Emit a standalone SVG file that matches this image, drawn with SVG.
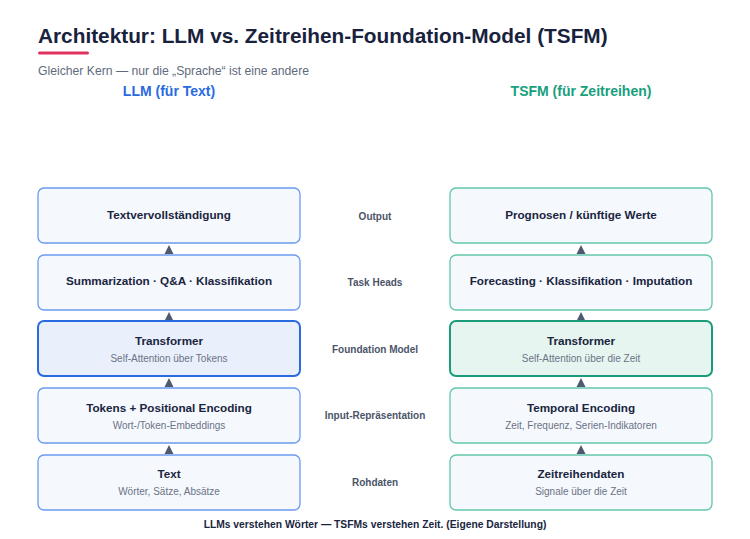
<svg xmlns="http://www.w3.org/2000/svg" width="750" height="539" viewBox="0 0 750 539">
<style>
text{font-family:"Liberation Sans",Arial,sans-serif}
.t{font-size:20.8px;font-weight:bold;fill:#18223d}
.sub{font-size:12.2px;fill:#5f6b7d}
.h{font-size:14px;font-weight:bold;text-anchor:middle}
.bt{font-size:11.7px;font-weight:bold;fill:#1a2540;text-anchor:middle}
.bs{font-size:10px;fill:#6b7385;text-anchor:middle}
.mid{font-size:10px;font-weight:bold;fill:#4b5568;text-anchor:middle}
.foot{font-size:10.3px;font-weight:bold;fill:#1a2540;text-anchor:middle}
.bl{fill:#f5f8fd;stroke:#6a9af0;stroke-width:1.3}
.blh{fill:#e9f0fc;stroke:#2a6ae0;stroke-width:2}
.gr{fill:#f5f8fd;stroke:#62c6aa;stroke-width:1.3}
.grh{fill:#e6f5f0;stroke:#1a9c7a;stroke-width:2}
.ar{fill:#4e5a70}
</style>
<text class="t" x="38" y="43">Architektur: LLM vs. Zeitreihen-Foundation-Model (TSFM)</text>
<rect x="38" y="51.5" width="51" height="3" rx="1.5" fill="#e0325f"/>
<text class="sub" x="38" y="75">Gleicher Kern — nur die „Sprache“ ist eine andere</text>
<text class="h" x="169" y="96" fill="#2a6ae0">LLM (für Text)</text>
<text class="h" x="581" y="96" fill="#17a07c">TSFM (für Zeitreihen)</text>

<g id="connectors">
<polygon class="ar" points="169,245 164.5,254 173.5,254"/>
<polygon class="ar" points="169,312 164.5,321 173.5,321"/>
<polygon class="ar" points="169,378 164.5,387 173.5,387"/>
<polygon class="ar" points="169,445 164.5,454 173.5,454"/>
<polygon class="ar" points="581,245 576.5,254 585.5,254"/>
<polygon class="ar" points="581,312 576.5,321 585.5,321"/>
<polygon class="ar" points="581,378 576.5,387 585.5,387"/>
<polygon class="ar" points="581,445 576.5,454 585.5,454"/>
</g>

<g id="llm-output"><rect class="bl" x="38" y="188" width="262" height="55" rx="6"/><text class="bt" x="169" y="218.5">Textvervollständigung</text></g>
<g id="llm-heads"><rect class="bl" x="38" y="255" width="262" height="55" rx="6"/><text class="bt" x="169" y="285">Summarization · Q&amp;A · Klassifikation</text></g>
<g id="llm-transformer"><rect class="blh" x="38" y="321" width="262" height="55" rx="6"/><text class="bt" x="169" y="345">Transformer</text><text class="bs" x="169" y="362">Self-Attention über Tokens</text></g>
<g id="llm-input"><rect class="bl" x="38" y="388" width="262" height="55" rx="6"/><text class="bt" x="169" y="412">Tokens + Positional Encoding</text><text class="bs" x="169" y="429">Wort-/Token-Embeddings</text></g>
<g id="llm-raw"><rect class="bl" x="38" y="455" width="262" height="55" rx="6"/><text class="bt" x="169" y="478">Text</text><text class="bs" x="169" y="495">Wörter, Sätze, Absätze</text></g>

<g id="tsfm-output"><rect class="gr" x="450" y="188" width="262" height="55" rx="6"/><text class="bt" x="581" y="218.5">Prognosen / künftige Werte</text></g>
<g id="tsfm-heads"><rect class="gr" x="450" y="255" width="262" height="55" rx="6"/><text class="bt" x="581" y="285">Forecasting · Klassifikation · Imputation</text></g>
<g id="tsfm-transformer"><rect class="grh" x="450" y="321" width="262" height="55" rx="6"/><text class="bt" x="581" y="345">Transformer</text><text class="bs" x="581" y="362">Self-Attention über die Zeit</text></g>
<g id="tsfm-input"><rect class="gr" x="450" y="388" width="262" height="55" rx="6"/><text class="bt" x="581" y="412">Temporal Encoding</text><text class="bs" x="581" y="429">Zeit, Frequenz, Serien-Indikatoren</text></g>
<g id="tsfm-raw"><rect class="gr" x="450" y="455" width="262" height="55" rx="6"/><text class="bt" x="581" y="478">Zeitreihendaten</text><text class="bs" x="581" y="495">Signale über die Zeit</text></g>

<g id="layer-labels">
<text class="mid" x="375" y="220">Output</text>
<text class="mid" x="375" y="286">Task Heads</text>
<text class="mid" x="375" y="353">Foundation Model</text>
<text class="mid" x="375" y="419">Input-Repräsentation</text>
<text class="mid" x="375" y="486">Rohdaten</text>
</g>
<text class="foot" x="375" y="528">LLMs verstehen Wörter — TSFMs verstehen Zeit. (Eigene Darstellung)</text>
</svg>
